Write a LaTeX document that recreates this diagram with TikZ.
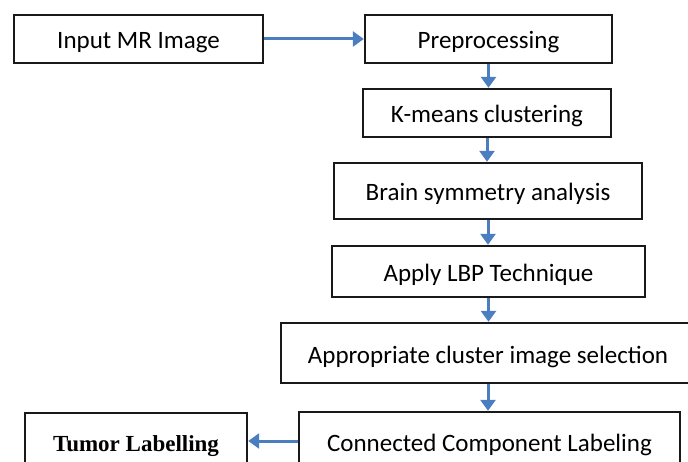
\documentclass[tikz,border=0pt]{standalone}
\usepackage{fontspec}
\setmainfont{Carlito}
\newfontfamily\tumorfont{Liberation Serif}
\usepackage{tikz}
\usetikzlibrary{arrows.meta}
\usetikzlibrary{positioning}
\definecolor{flowblue}{RGB}{74,126,193}
\tikzset{
    stagebox/.style={draw=black!90, line width=2.4pt, inner sep=0pt,
        text height=20pt, text depth=0pt,
        font=\fontsize{25}{30}\selectfont},
    flow/.style={draw=flowblue, line width=3pt,
        -{Triangle[length=11pt,width=15pt]}},
}

\begin{document}
\begin{tikzpicture}[x=1pt, y=-1pt]
		\useasboundingbox (0,0) rectangle (688,462);
		\clip (0,0) rectangle (688,462);
		% boxes
		\node[stagebox, minimum width=249pt, minimum height=48pt] (input) at (138.5,39) {Input MR Image};
		\node[stagebox, minimum width=247pt, minimum height=48pt] (prep) at (488.5,39) {Preprocessing};
		\node[stagebox, minimum width=248pt, minimum height=48pt] (kmeans) at (487,113) {K-means clustering};
		\node[stagebox, minimum width=308pt, minimum height=56pt] (brain) at (488,191) {Brain symmetry analysis};
		\node[stagebox, minimum width=313pt, minimum height=51pt] (lbp) at (488.5,271.5) {Apply LBP Technique};
		\node[stagebox, minimum width=414pt, minimum height=60pt] (select) at (488,353) {Appropriate cluster image selection};
		\node[stagebox, minimum width=381pt, minimum height=58pt] (ccl) at (489.5,441) {Connected Component Labeling};
		\node[stagebox, minimum width=222pt, minimum height=56pt,
			font=\tumorfont\bfseries\fontsize{23}{27}\selectfont] (tumor) at (136,441) {Tumor Labelling};
		%
		\draw[flow] (input) -- (prep);
		\draw[flow] (prep.south) -- (prep.south |- kmeans.north);
		\draw[flow] (kmeans.south) -- (kmeans.south |- brain.north);
		\draw[flow] (brain.south) -- (brain.south |- lbp.north);
		\draw[flow] (lbp.south) -- (lbp.south |- select.north);
		\draw[flow] (select.south) -- (select.south |- ccl.north);
		\draw[flow] (ccl) -- (tumor);
	\end{tikzpicture}
\end{document}
